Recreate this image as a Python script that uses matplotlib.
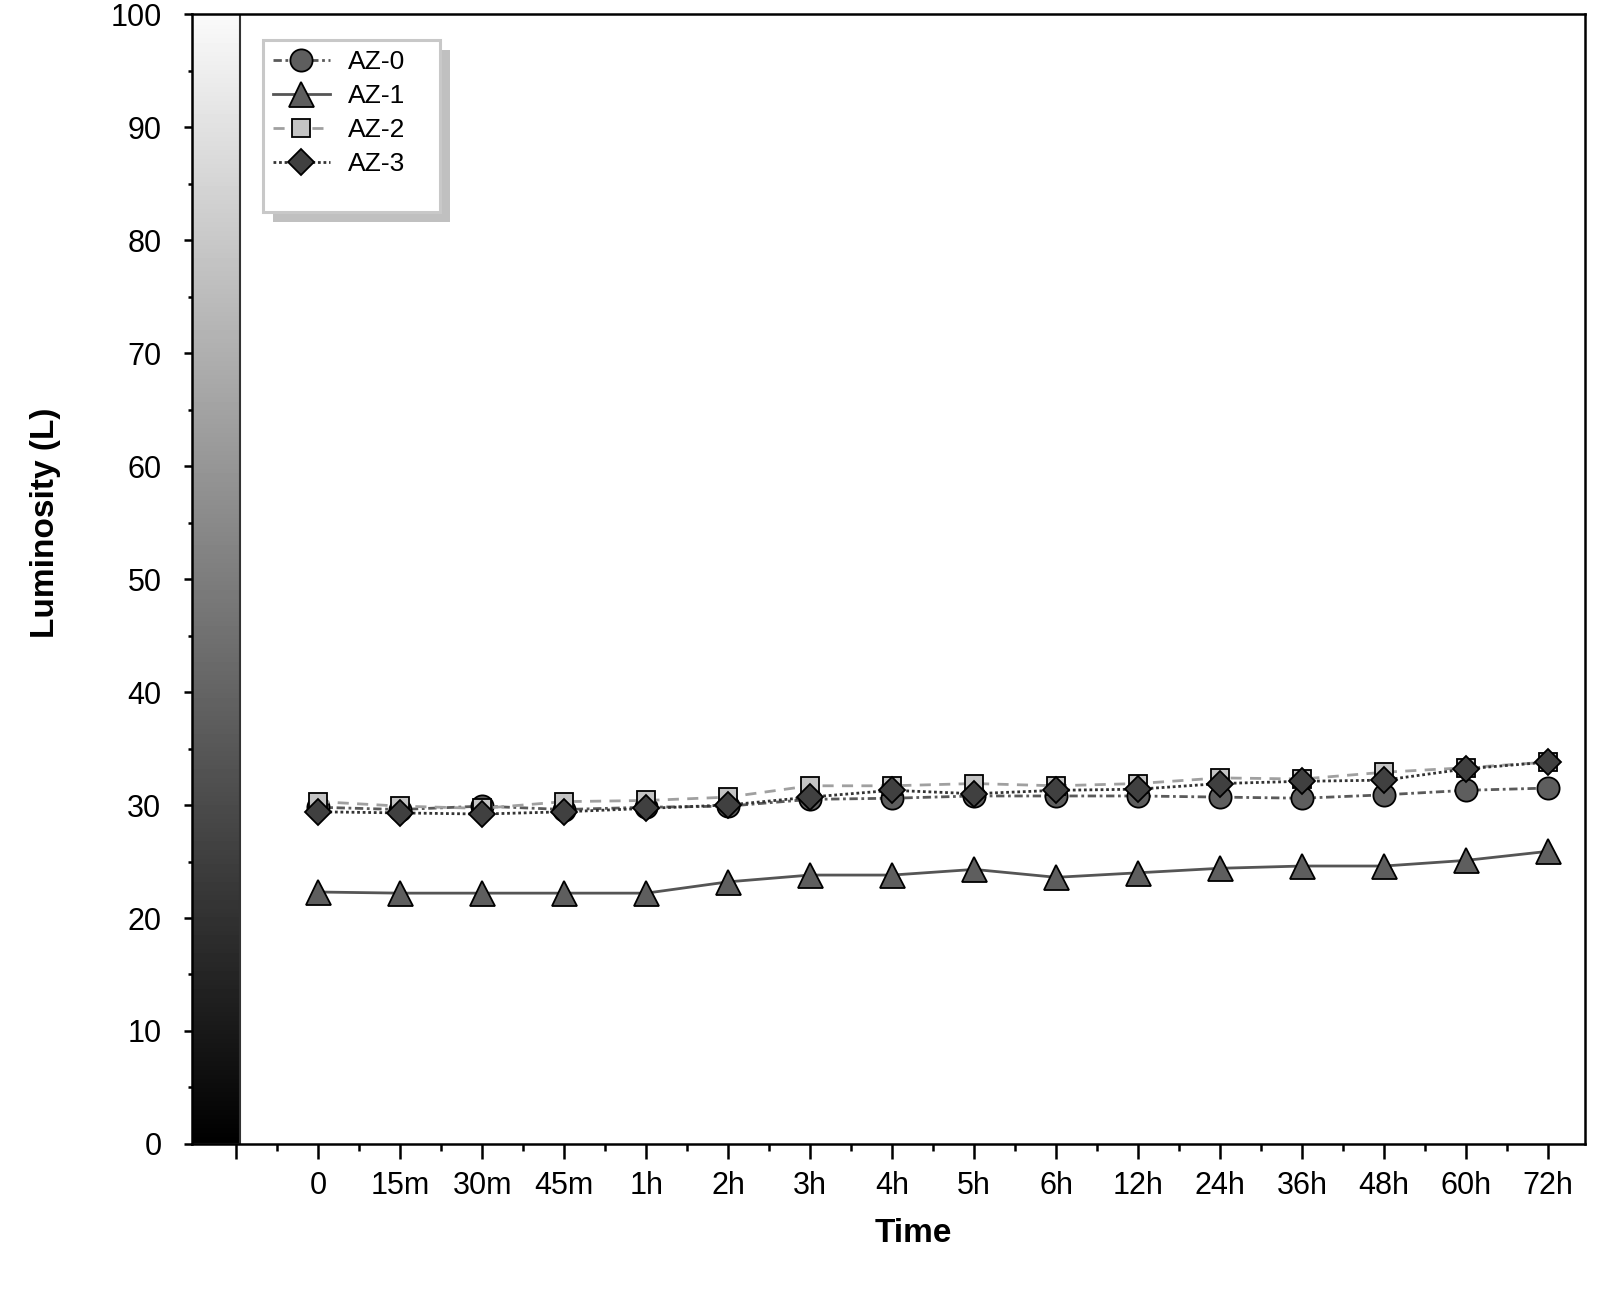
import numpy as np
import matplotlib
matplotlib.use("Agg")
import matplotlib.pyplot as plt
from matplotlib.patches import Rectangle
from matplotlib.ticker import FixedLocator, MultipleLocator

plt.rcParams['font.family'] = ['Liberation Sans', 'DejaVu Sans']

# ---- data ----
time_labels = ['0', '15m', '30m', '45m', '1h', '2h', '3h', '4h', '5h', '6h',
               '12h', '24h', '36h', '48h', '60h', '72h']
az0 = [29.8, 29.6, 29.9, 29.6, 29.8, 29.9, 30.5, 30.6, 30.8, 30.8, 30.8, 30.7, 30.6, 30.9, 31.3, 31.5]
az1 = [22.3, 22.2, 22.2, 22.2, 22.2, 23.2, 23.8, 23.8, 24.3, 23.6, 24.0, 24.4, 24.6, 24.6, 25.1, 25.9]
az2 = [30.3, 29.9, 29.7, 30.3, 30.4, 30.7, 31.7, 31.7, 31.9, 31.7, 31.9, 32.4, 32.3, 32.9, 33.3, 33.8]
az3 = [29.4, 29.3, 29.2, 29.4, 29.7, 30.0, 30.7, 31.3, 31.0, 31.3, 31.4, 31.9, 32.1, 32.2, 33.2, 33.8]
series_names = ['AZ-0', 'AZ-1', 'AZ-2', 'AZ-3']

fig = plt.figure(figsize=(16, 12.89), dpi=100)
ax = fig.add_axes([0.12, 0.1125, 0.8706, 0.8766])

x = np.arange(len(time_labels))
x_left, x_right = -1.54, 15.45

styles = [
    dict(marker='o', ms=16, mfc='#5e5e5e', color='#5a5a5a', dashes=(3, 1.3, 1, 1.3)),
    dict(marker='^', ms=18, mfc='#5e5e5e', color='#555555', ls='-'),
    dict(marker='s', ms=13.5, mfc='#c4c4c4', color='#a0a0a0', dashes=(4, 3)),
    dict(marker='D', ms=13.5, mfc='#404040', color='#333333', dashes=(1, 1)),
]
for vals, name, st in zip([az0, az1, az2, az3], series_names, styles):
    st = dict(st)
    ax.plot(x, vals, label=name, lw=2.0, mec='black', mew=1.3, zorder=3, **st)

# luminosity gradient bar on the left
grad = np.linspace(0, 0.98, 256).reshape(-1, 1)
ax.imshow(grad, cmap='gray', vmin=0, vmax=1, aspect='auto', origin='lower',
          extent=[x_left, -0.95, 0, 100], zorder=1, interpolation='bilinear')
ax.add_patch(Rectangle((x_left, 0), -0.95 - x_left, 100, fill=False,
                       edgecolor='#333333', lw=1.5, zorder=2))

ax.set_xlim(x_left, x_right)
ax.set_ylim(0, 100)

ax.xaxis.set_major_locator(FixedLocator(np.arange(-1, len(time_labels))))
ax.set_xticklabels([''] + time_labels)
ax.xaxis.set_minor_locator(FixedLocator(np.arange(-0.5, len(time_labels) - 1, 1.0)))
ax.yaxis.set_major_locator(MultipleLocator(10))
ax.yaxis.set_minor_locator(MultipleLocator(5))

ax.tick_params(axis='x', which='major', direction='out', length=10.5, width=1.8,
               labelsize=22, pad=9)
ax.tick_params(axis='x', which='minor', direction='out', length=5, width=1.8)
ax.tick_params(axis='y', which='major', direction='out', length=6, width=1.8,
               labelsize=22, pad=16)
ax.tick_params(axis='y', which='minor', direction='out', length=3, width=1.8)
for sp in ax.spines.values():
    sp.set_linewidth(1.8)

ax.set_xlabel('Time', fontsize=24, fontweight='bold')
ax.xaxis.set_label_coords(0.518, -0.079)
ax.xaxis.label.set_va('center')
ax.set_ylabel('Luminosity (L)', fontsize=24, fontweight='bold')
ax.yaxis.set_label_coords(-0.105, 0.55)
ax.yaxis.label.set_va('center')

# legend with custom frame + shadow
fx0, fx1 = 0.051, 0.178
fy0, fy1 = 0.825, 0.977
ax.add_patch(Rectangle((fx0 + 0.0072, fy0 - 0.0088), fx1 - fx0, fy1 - fy0,
                       transform=ax.transAxes, facecolor='#c0c0c0',
                       edgecolor='none', zorder=5))
ax.add_patch(Rectangle((fx0, fy0), fx1 - fx0, fy1 - fy0,
                       transform=ax.transAxes, facecolor='white',
                       edgecolor='#c8c8c8', lw=2.2, zorder=6))
leg = ax.legend(loc='upper left', bbox_to_anchor=(0.058, 0.968), frameon=False,
                fontsize=19, borderpad=0, borderaxespad=0, handlelength=2.16,
                handletextpad=0.68, labelspacing=0.38)
leg.set_zorder(7)

fig.savefig('out.png', dpi=100)
